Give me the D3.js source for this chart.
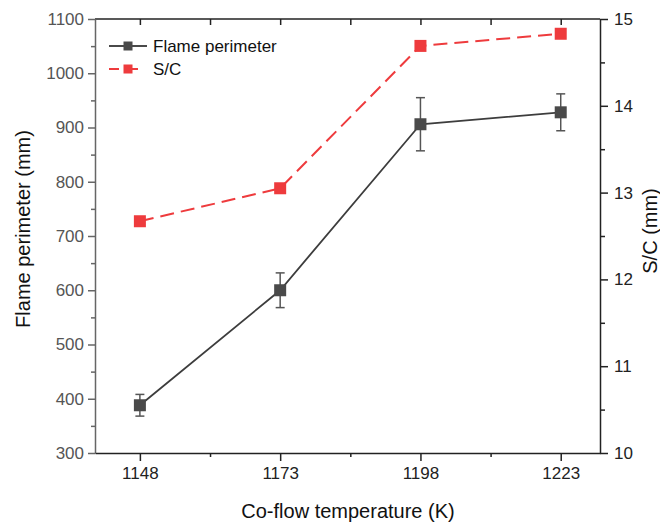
<!DOCTYPE html>
<html>
<head>
<meta charset="utf-8">
<script src="https://cdn.jsdelivr.net/npm/d3@7"></script>
<style>
  body { margin: 0; background: #fff; }
  svg { display: block; font-family: "Liberation Sans", Arial, sans-serif; }
</style>
</head>
<body>
<div id="chart"></div>
<script>
// Data
const temperatures = [1148, 1173, 1198, 1223];
const perimeter = [388, 600, 906, 928];
const perimeterErr = [20, 32, 49, 34];
const sc = [12.67, 13.05, 14.69, 14.83];

const leftTicks = [300, 400, 500, 600, 700, 800, 900, 1000, 1100];
const leftMinor = [350, 450, 550, 650, 750, 850, 950, 1050];
const rightTicks = [10, 11, 12, 13, 14, 15];
const rightMinor = [10.5, 11.5, 12.5, 13.5, 14.5];
const xMinor = [1160.5, 1185.5, 1210.5];

const seriesNames = ["Flame perimeter", "S/C"];
const colors = ["#4a4a4a", "#ee3b3d"];

const width = 660, height = 522;
const margins = {top: 19, right: 60, bottom: 69, left: 95};

const svg = d3.select("#chart")
  .append("svg")
  .attr("width", width)
  .attr("height", height);

const x = d3.scaleLinear()
  .domain([1140, 1230])
  .range([margins.left, width - margins.right]);

const yLeft = d3.scaleLinear()
  .domain([300, 1100])
  .range([height - margins.bottom, margins.top]);

const yRight = d3.scaleLinear()
  .domain([10, 15])
  .range([height - margins.bottom, margins.top]);

const x0 = margins.left, x1 = width - margins.right;
const y0 = height - margins.bottom, y1 = margins.top;

// Axes
const styleAxis = (g, color, textColor) => {
  g.selectAll("line, path").attr("stroke", color).attr("stroke-width", 1.5);
  g.selectAll("text")
    .attr("fill", textColor)
    .style("font-size", "17px")
    .style("font-family", "Liberation Sans, Arial, sans-serif");
};

// minor ticks first so major lines draw over them
svg.append("g")
    .attr("transform", `translate(${x0},0)`)
  .call(d3.axisLeft(yLeft).tickValues(leftMinor).tickSize(4).tickFormat(""))
  .call(g => g.select(".domain").remove())
  .call(g => styleAxis(g, "#666", "#555"));

svg.append("g")
    .attr("transform", `translate(${x1},0)`)
  .call(d3.axisRight(yRight).tickValues(rightMinor).tickSize(5).tickFormat(""))
  .call(g => g.select(".domain").remove())
  .call(g => styleAxis(g, "#222", "#222"));

svg.append("g")
    .attr("transform", `translate(0,${y0})`)
  .call(d3.axisBottom(x).tickValues(xMinor).tickSize(4).tickFormat(""))
  .call(g => g.select(".domain").remove())
  .call(g => styleAxis(g, "#222", "#222"));

// top axis, inward ticks
svg.append("g")
    .attr("transform", `translate(0,${y1})`)
  .call(d3.axisBottom(x).tickValues(temperatures.concat(xMinor)).tickSize(6).tickFormat(""))
  .call(g => g.select(".domain").remove())
  .call(g => styleAxis(g, "#222", "#222"));

svg.append("line")
  .attr("x1", x0).attr("x2", x1).attr("y1", y1).attr("y2", y1)
  .attr("stroke", "#222").attr("stroke-width", 1.5);

svg.append("g")
    .attr("transform", `translate(${x0},0)`)
  .call(d3.axisLeft(yLeft).tickValues(leftTicks).tickSize(7).tickPadding(4)
    .tickFormat(d3.format("d")).tickSizeOuter(0))
  .call(g => styleAxis(g, "#666", "#555"));

svg.append("g")
    .attr("transform", `translate(${x1},0)`)
  .call(d3.axisRight(yRight).tickValues(rightTicks).tickSize(8).tickPadding(6)
    .tickFormat(d3.format("d")).tickSizeOuter(0))
  .call(g => styleAxis(g, "#222", "#222"));

svg.append("g")
    .attr("transform", `translate(0,${y0})`)
  .call(d3.axisBottom(x).tickValues(temperatures).tickSize(8).tickPadding(6)
    .tickFormat(d3.format("d")).tickSizeOuter(0))
  .call(g => styleAxis(g, "#222", "#222"));

// Axis titles
svg.append("text")
  .attr("transform", `translate(30,229) rotate(-90)`)
  .attr("text-anchor", "middle")
  .style("font-size", "20px")
  .attr("fill", "#111")
  .text("Flame perimeter (mm)");

svg.append("text")
  .attr("transform", `translate(657,231) rotate(-90)`)
  .attr("text-anchor", "middle")
  .style("font-size", "20px")
  .attr("fill", "#111")
  .text("S/C (mm)");

svg.append("text")
  .attr("x", 348)
  .attr("y", 518)
  .attr("text-anchor", "middle")
  .style("font-size", "20px")
  .attr("fill", "#111")
  .text("Co-flow temperature (K)");

// Series data
const perimData = temperatures.map((t, i) => ({t, v: perimeter[i], e: perimeterErr[i]}));
const scData = temperatures.map((t, i) => ({t, v: sc[i]}));

// S/C dashed line
svg.append("path")
  .datum(scData)
  .attr("fill", "none")
  .attr("stroke", colors[1])
  .attr("stroke-width", 2)
  .attr("stroke-dasharray", "14 7")
  .attr("d", d3.line().x(d => x(d.t)).y(d => yRight(d.v)));

svg.append("g")
  .selectAll("rect")
  .data(scData)
  .join("rect")
    .attr("x", d => x(d.t) - 6)
    .attr("y", d => yRight(d.v) - 6)
    .attr("width", 12)
    .attr("height", 12)
    .attr("fill", colors[1]);

// Flame perimeter line with error bars
svg.append("path")
  .datum(perimData)
  .attr("fill", "none")
  .attr("stroke", "#3d3d3d")
  .attr("stroke-width", 1.8)
  .attr("d", d3.line().x(d => x(d.t)).y(d => yLeft(d.v)));

const errG = svg.append("g")
  .attr("stroke", "#555")
  .attr("stroke-width", 1.5);

errG.selectAll(".stem")
  .data(perimData)
  .join("line")
    .attr("x1", d => x(d.t)).attr("x2", d => x(d.t))
    .attr("y1", d => yLeft(d.v + d.e)).attr("y2", d => yLeft(d.v - d.e));

errG.selectAll(".capTop")
  .data(perimData)
  .join("line")
    .attr("class", "capTop")
    .attr("x1", d => x(d.t) - 4.5).attr("x2", d => x(d.t) + 4.5)
    .attr("y1", d => yLeft(d.v + d.e)).attr("y2", d => yLeft(d.v + d.e));

errG.selectAll(".capBot")
  .data(perimData)
  .join("line")
    .attr("class", "capBot")
    .attr("x1", d => x(d.t) - 4.5).attr("x2", d => x(d.t) + 4.5)
    .attr("y1", d => yLeft(d.v - d.e)).attr("y2", d => yLeft(d.v - d.e));

svg.append("g")
  .selectAll("rect")
  .data(perimData)
  .join("rect")
    .attr("x", d => x(d.t) - 6)
    .attr("y", d => yLeft(d.v) - 6)
    .attr("width", 12)
    .attr("height", 12)
    .attr("fill", colors[0]);

// Legend
const legend = svg.append("g");
seriesNames.forEach((name, i) => {
  const ly = 46 + i * 23;
  legend.append("line")
    .attr("x1", 109).attr("x2", 147)
    .attr("y1", ly).attr("y2", ly)
    .attr("stroke", colors[i])
    .attr("stroke-width", 1.8)
    .attr("stroke-dasharray", i === 1 ? "10 9" : null);
  legend.append("rect")
    .attr("x", 123.5).attr("y", ly - 4.5)
    .attr("width", 9).attr("height", 9)
    .attr("fill", colors[i]);
  legend.append("text")
    .attr("x", 153)
    .attr("y", ly + 6)
    .style("font-size", "17px")
    .attr("fill", "#111")
    .text(name);
});
</script>
</body>
</html>
